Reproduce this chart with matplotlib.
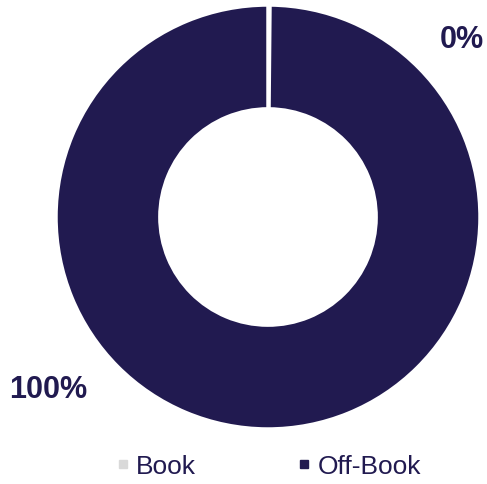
import matplotlib.pyplot as plt
from matplotlib.lines import Line2D

plt.rcParams['font.family'] = ['Liberation Sans', 'DejaVu Sans']

# 数据
categories = ['Book', 'Off-Book']
values = [0.15, 99.85]
labels = ['0%', '100%']
colors = ['#D9D9D9', '#211A50']
navy = '#211A50'

fig = plt.figure(figsize=(4.87, 4.85), dpi=100)
ax = fig.add_axes([56 / 487, 55 / 485, 424 / 487, 424 / 485])

wedges, _ = ax.pie(values, colors=colors, startangle=90, counterclock=False,
                   radius=1.0, wedgeprops=dict(width=0.49, edgecolor='white', linewidth=2.5))
ax.set_xlim(-1, 1)
ax.set_ylim(-1, 1)
ax.set_aspect('equal')
ax.axis('off')

# 百分比标签
ax.text(0.915, 0.84, labels[0], fontsize=22, fontweight='bold', color=navy,
        ha='center', va='center')
ax.text(-1.038, -0.81, labels[1], fontsize=22, fontweight='bold', color=navy,
        ha='center', va='center')

# 图例
handles = [Line2D([0], [0], marker='s', linestyle='none', markersize=5.8,
                  markerfacecolor=c, markeredgecolor=c) for c in colors]
fig.legend(handles, categories, loc='center', bbox_to_anchor=(268 / 487, 1 - 467 / 485),
           ncol=2, frameon=False, fontsize=19, labelcolor=navy,
           handlelength=0.6, handletextpad=0.2, columnspacing=3.8)

fig.savefig('out.png', dpi=100)
